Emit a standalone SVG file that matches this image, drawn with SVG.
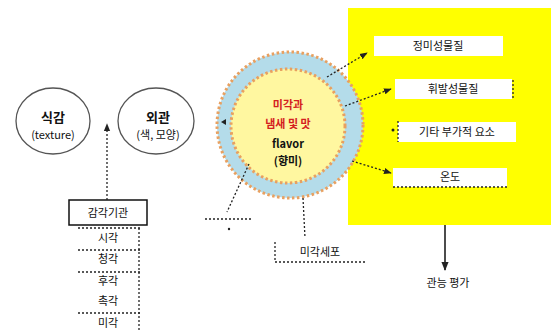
<svg xmlns="http://www.w3.org/2000/svg" width="551" height="331" viewBox="0 0 551 331">
<defs>
<style>
text{font-family:"Noto Sans CJK KR","Liberation Sans",sans-serif;text-anchor:middle;}
.t{font-size:11px;fill:#111;}
.h{font-size:13px;font-weight:bold;fill:#111;}
.red{font-size:11px;font-weight:bold;fill:#d42020;}
.blk{font-size:11px;font-weight:bold;fill:#111;}
.dot{stroke:#222;stroke-width:1.3;stroke-dasharray:2 2;fill:none;}
.box{fill:#fff;stroke:none;}
</style>
<marker id="ah" viewBox="0 0 10 10" refX="9" refY="5" markerWidth="6" markerHeight="6" orient="auto-start-reverse"><path d="M0,1 L10,5 L0,9 z" fill="#222"/></marker>
</defs>
<rect width="551" height="331" fill="#fff"/>

<g id="yellow-area"><rect x="348" y="8" width="203" height="217" fill="#ffff00"/></g>

<g id="node-texture">
<ellipse cx="53" cy="121" rx="37" ry="33" fill="#fff" stroke="#555" stroke-width="1.3"/>
<text class="h" x="53" y="122">식감</text>
<text class="t" x="53" y="139">(texture)</text>
</g>
<g id="node-appearance">
<ellipse cx="156" cy="121" rx="38" ry="33" fill="#fff" stroke="#555" stroke-width="1.3"/>
<text class="h" x="158" y="122">외관</text>
<text class="t" x="158" y="139">(색, 모양)</text>
</g>

<g id="node-flavor">
<circle cx="290" cy="125" r="73" fill="#b4dcea" stroke="#e8a060" stroke-width="3" stroke-dasharray="2.5 2.5"/>
<circle cx="288" cy="126" r="57" fill="#fff7a0" stroke="#e8a060" stroke-width="3" stroke-dasharray="2.5 2.5"/>
<text class="red" x="288" y="109">미각과</text>
<text class="red" x="288" y="128">냄새 및 맛</text>
<text class="blk" x="288" y="148">flavor</text>
<text class="blk" x="288" y="165">(향미)</text>
</g>

<g id="node-senses">
<rect x="69" y="200" width="78" height="25" fill="#fff" stroke="#111" stroke-width="1.5"/>
<text class="t" x="108" y="217">감각기관</text>
<text class="t" x="108" y="242">시각</text>
<text class="t" x="108" y="263">청각</text>
<text class="t" x="108" y="285">후각</text>
<text class="t" x="108" y="305">촉각</text>
<text class="t" x="108" y="327">미각</text>
</g>

<g id="node-box1"><rect class="box" x="374" y="36" width="129" height="20"/><text class="t" x="438" y="50">정미성물질</text></g>
<g id="node-box2"><rect class="box" x="395" y="79" width="117" height="20"/><text class="t" x="453" y="93">휘발성물질</text></g>
<g id="node-box3"><rect class="box" x="398" y="122" width="118" height="20"/><text class="t" x="457" y="136">기타 부가적 요소</text></g>
<g id="node-box4"><rect class="box" x="393" y="168" width="114" height="19"/><text class="t" x="450" y="181">온도</text></g>

<g id="node-cell"><text class="t" x="320" y="256">미각세포</text></g>
<g id="node-eval"><text class="t" x="448" y="287">관능 평가</text></g>

<g id="connectors">
<line class="dot" x1="107" y1="200" x2="107" y2="124" marker-end="url(#ah)"/>
<line class="dot" x1="78" y1="228" x2="140" y2="228"/>
<line class="dot" x1="78" y1="250" x2="140" y2="250"/>
<line class="dot" x1="78" y1="272" x2="140" y2="272"/>
<line class="dot" x1="78" y1="313" x2="140" y2="313"/>
<line class="dot" x1="139" y1="228" x2="139" y2="331"/>
<line class="dot" x1="327" y1="77" x2="367" y2="53" marker-end="url(#ah)"/>
<line class="dot" x1="345" y1="106" x2="391" y2="89" marker-end="url(#ah)"/>
<line class="dot" x1="513" y1="80" x2="513" y2="100"/>
<line class="dot" x1="398" y1="121" x2="398" y2="142"/>
<circle cx="393" cy="130" r="1.5" fill="#222"/>
<line class="dot" x1="352" y1="161" x2="391" y2="173" marker-end="url(#ah)"/>
<line class="dot" x1="393" y1="187" x2="507" y2="187"/>
<path d="M226,119 L221,122 L226,125 z" fill="#222"/>
<line class="dot" x1="249" y1="164" x2="227" y2="212"/>
<line class="dot" x1="205" y1="219" x2="252" y2="219"/>
<circle cx="229" cy="229" r="1.2" fill="#222"/>
<line class="dot" x1="303" y1="198" x2="305" y2="238"/>
<line class="dot" x1="275" y1="242" x2="275" y2="262"/>
<line class="dot" x1="275" y1="262" x2="365" y2="262"/>
<line x1="445" y1="225" x2="445" y2="270" stroke="#111" stroke-width="1.5" marker-end="url(#ah)"/>
</g>
</svg>
